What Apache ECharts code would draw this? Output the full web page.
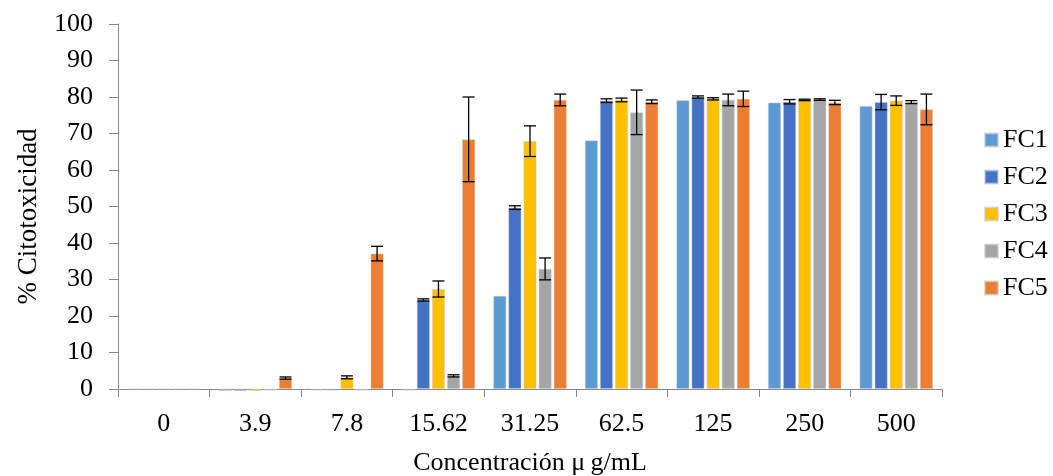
<!DOCTYPE html>
<html>
<head>
<meta charset="utf-8">
<script src="https://cdn.jsdelivr.net/npm/echarts@6/dist/echarts.min.js"></script>
<style>
  html, body { margin: 0; padding: 0; background: #fff; }
  #chart { width: 1053px; height: 476px; }
</style>
</head>
<body>
<div id="chart"></div>
<script>
// Concentrations (µg/mL)
const categories = ['0', '3.9', '7.8', '15.62', '31.25', '62.5', '125', '250', '500'];
const seriesNames = ['FC1', 'FC2', 'FC3', 'FC4', 'FC5'];
const colors = ['#5B9BD5', '#4472C4', '#FFC000', '#A5A5A5', '#ED7D31'];

// Mean % cytotoxicity per fraction
const fc1 = [0, -0.5, -0.4, -0.4, 25.5, 68.1, 79.1, 78.5, 77.5];
const fc2 = [0, -0.5, -0.4, 24.4, 49.7, 79.0, 80.0, 78.7, 78.6];
const fc3 = [0, -0.5, 3.2, 27.4, 67.9, 79.2, 79.5, 79.2, 79.0];
const fc4 = [0, -0.4, -0.4, 3.6, 32.9, 75.8, 79.2, 79.3, 78.6];
const fc5 = [0, 3.0, 37.1, 68.4, 79.2, 78.7, 79.5, 78.5, 76.6];

// Standard deviations
const fc1Err = [0, 0, 0, 0, 0, 0, 0, 0, 0];
const fc2Err = [0, 0, 0, 0.3, 0.5, 0.5, 0.3, 0.6, 2.1];
const fc3Err = [0, 0, 0.4, 2.2, 4.2, 0.5, 0.3, 0.2, 1.3];
const fc4Err = [0, 0, 0, 0.3, 3.0, 6.1, 1.6, 0.2, 0.4];
const fc5Err = [0, 0.3, 2.0, 11.6, 1.6, 0.5, 2.1, 0.6, 4.2];

const yTicks = { min: 0, max: 100, interval: 10 };

const means = [fc1, fc2, fc3, fc4, fc5];
const errs = [fc1Err, fc2Err, fc3Err, fc4Err, fc5Err];

const BAR_W = 13;
const BAR_GAP = 2.1;
const N = seriesNames.length;
const font = 'Liberation Serif';

const barSeries = seriesNames.map((name, i) => ({
  name,
  type: 'bar',
  data: means[i],
  barWidth: BAR_W,
  barGap: (BAR_GAP / BAR_W * 100) + '%',
  clip: false,
  itemStyle: { color: colors[i], borderColor: 'rgba(200,200,200,0.6)', borderWidth: 0.8 },
  z: 2
}));

// Error bars drawn with caps, centred on each bar
const errSeries = seriesNames.map((name, i) => ({
  type: 'custom',
  name: name + '_err',
  z: 5,
  silent: true,
  data: means[i].map((m, k) => [k, m - errs[i][k], m + errs[i][k]]),
  renderItem: function (params, api) {
    const k = api.value(0);
    const lo = api.coord([k, api.value(1)]);
    const hi = api.coord([k, api.value(2)]);
    if (api.value(2) - api.value(1) <= 0) return null;
    const total = N * BAR_W + (N - 1) * BAR_GAP;
    const x = lo[0] - total / 2 + BAR_W / 2 + i * (BAR_W + BAR_GAP);
    const cap = 6;
    const style = { stroke: '#000', lineWidth: 1.3 };
    return {
      type: 'group',
      children: [
        { type: 'line', shape: { x1: x, y1: hi[1], x2: x, y2: lo[1] }, style },
        { type: 'line', shape: { x1: x - cap, y1: hi[1], x2: x + cap, y2: hi[1] }, style },
        { type: 'line', shape: { x1: x - cap, y1: lo[1], x2: x + cap, y2: lo[1] }, style }
      ]
    };
  }
}));

const chart = echarts.init(document.getElementById('chart'));
chart.setOption({
  animation: false,
  color: colors,
  grid: { left: 118, right: 111, top: 24, bottom: 87, outerBoundsMode: 'none', containLabel: false },
  legend: {
    data: seriesNames,
    orient: 'vertical',
    left: 979,
    top: 122,
    icon: 'rect',
    itemWidth: 13,
    itemHeight: 13,
    itemGap: 11,
    textStyle: { fontFamily: font, fontSize: 26, color: '#000' }
  },
  xAxis: {
    type: 'category',
    data: categories,
    name: 'Concentración μ\u2009g/mL',
    nameLocation: 'middle',
    nameGap: 61,
    nameTextStyle: { fontFamily: font, fontSize: 26, color: '#000' },
    axisLine: { lineStyle: { color: '#898989', width: 1 } },
    axisTick: { show: true, length: 8, lineStyle: { color: '#898989' } },
    axisLabel: { fontFamily: font, fontSize: 26, color: '#000', margin: 22 }
  },
  yAxis: {
    type: 'value',
    min: yTicks.min,
    max: yTicks.max,
    interval: yTicks.interval,
    name: '% Citotoxicidad',
    nameLocation: 'middle',
    nameGap: 76,
    nameTextStyle: { fontFamily: font, fontSize: 27, color: '#000', padding: [0, 20, 0, 0] },
    axisLine: { show: true, lineStyle: { color: '#898989', width: 1 } },
    axisTick: { show: true, length: 9, lineStyle: { color: '#898989' } },
    axisLabel: { fontFamily: font, fontSize: 26, color: '#000', margin: 25 },
    splitLine: { show: false }
  },
  series: [...barSeries, ...errSeries]
});
</script>
</body>
</html>
